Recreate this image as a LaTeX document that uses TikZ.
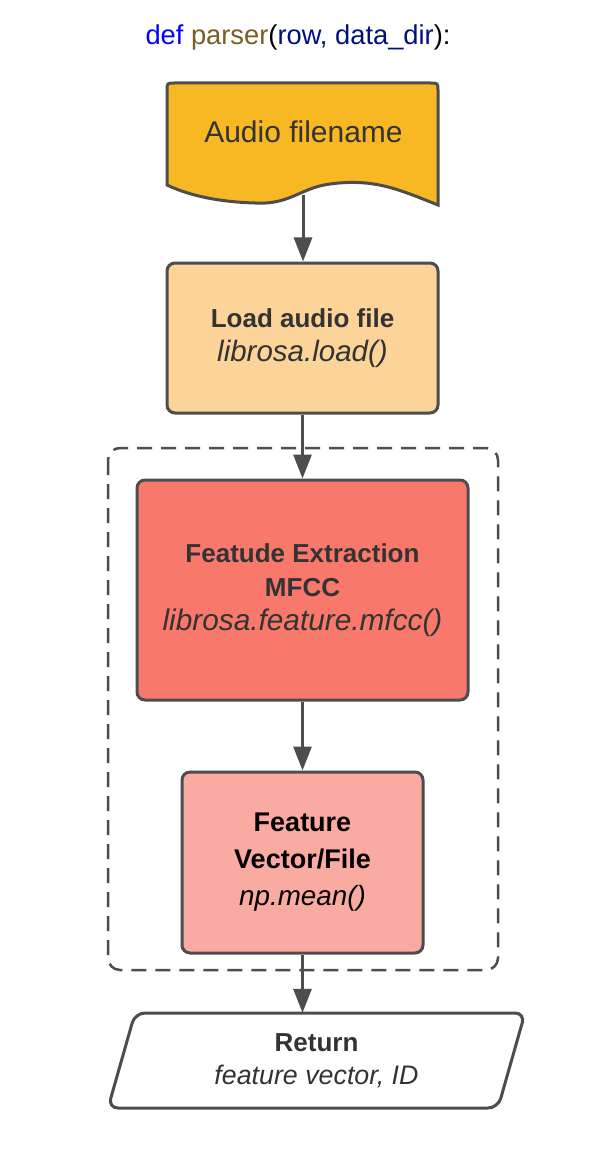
\documentclass[tikz,border=0pt]{standalone}
\usepackage{fontspec}
\setmainfont{Liberation Sans}
\usetikzlibrary{arrows.meta}
\definecolor{stroke}{HTML}{4D4D4D}
\definecolor{txt}{HTML}{333333}
\definecolor{docfill}{HTML}{F7B824}
\definecolor{loadfill}{HTML}{FCD399}
\definecolor{mfccfill}{HTML}{F8786B}
\definecolor{fvfill}{HTML}{F9AAA1}
\definecolor{kwblue}{HTML}{0000FF}
\definecolor{fnbrown}{HTML}{795E26}
\definecolor{argnavy}{HTML}{001080}
\newcommand{\fsz}[1]{\fontsize{#1}{#1}\selectfont}
\begin{document}
\begin{tikzpicture}[x=1pt,y=-1pt,
  box/.style={draw=stroke, line width=3pt, rounded corners=8pt, align=center, text=txt,
    font=\fontsize{26}{34}\selectfont, inner sep=0pt},
  flow/.style={draw=stroke, line width=3pt, -{Triangle[length=24pt,width=18pt]}},
  lbl/.style={align=center, text=txt, font=\fontsize{26}{34}\selectfont, inner sep=0pt}]
\useasboundingbox (0,0) rectangle (598,1150);
\fill[white] (0,0) rectangle (598,1150);

% title
\node[font=\fontsize{27.3}{32}\selectfont, inner sep=0pt] (title) at (298,37)
  {\textcolor{kwblue}{def} \textcolor{fnbrown}{parser}(\textcolor{argnavy}{row, data\_dir}):};

% dashed container
\draw[draw=stroke, line width=2.5pt, dash pattern=on 15pt off 9pt, rounded corners=12pt]
  (108,448) rectangle (498,970);

% document shape
\draw[fill=docfill, draw=stroke, line width=3pt]
  (167,185) -- (167,91) .. controls (167,83) .. (175,83) -- (430,83)
  .. controls (438,83) .. (438,91) -- (438,205)
  .. controls (400,190) and (375,178) .. (330,184)
  .. controls (300,188) and (290,205) .. (255,203)
  .. controls (220,202) and (190,196) .. (167,185) -- cycle;
\node[lbl, font=\fontsize{30}{34}\selectfont] (doc) at (303.5,132) {Audio filename};
\coordinate (docbot) at (303,195);

% boxes
\node[box, fill=loadfill, minimum width=271pt, minimum height=150pt] (load) at (302.5,338)
  {\textbf{Load audio file}\\{\fsz{29.5}\itshape librosa.load()}};
\node[box, fill=mfccfill, minimum width=331pt, minimum height=220pt] (mfcc) at (302.5,590)
  {\textbf{Featude Extraction}\\\textbf{MFCC}\\{\fsz{29.8}\itshape librosa.feature.mfcc()}};
\node[box, fill=fvfill, minimum width=241pt, minimum height=181pt, text=black,
  font=\fontsize{27}{37}\selectfont] (fv) at (302.5,862.5)
  {\textbf{Feature}\\\textbf{Vector/File}\\{\fsz{27.8}\itshape np.mean()}};

% return parallelogram
\draw[draw=stroke, fill=white, line width=3pt, rounded corners=10pt]
  (135,1013) -- (525,1013) -- (498,1108) -- (108,1108) -- cycle;
\node[minimum width=390pt, minimum height=95pt, inner sep=0pt] (ret) at (316.5,1060.5) {};
\node[lbl, font=\fontsize{26}{33}\selectfont] (rettext) at (ret.center)
  {\textbf{Return}\\{\fsz{26.8}\itshape feature vector, ID}};

% connectors
\draw[flow] (docbot) -- (docbot |- load.north);
\draw[flow] (load.south) -- (mfcc.north);
\draw[flow] (mfcc.south) -- (fv.north);
\draw[flow] (fv.south) -- (fv.south |- ret.north);
\end{tikzpicture}
\end{document}
